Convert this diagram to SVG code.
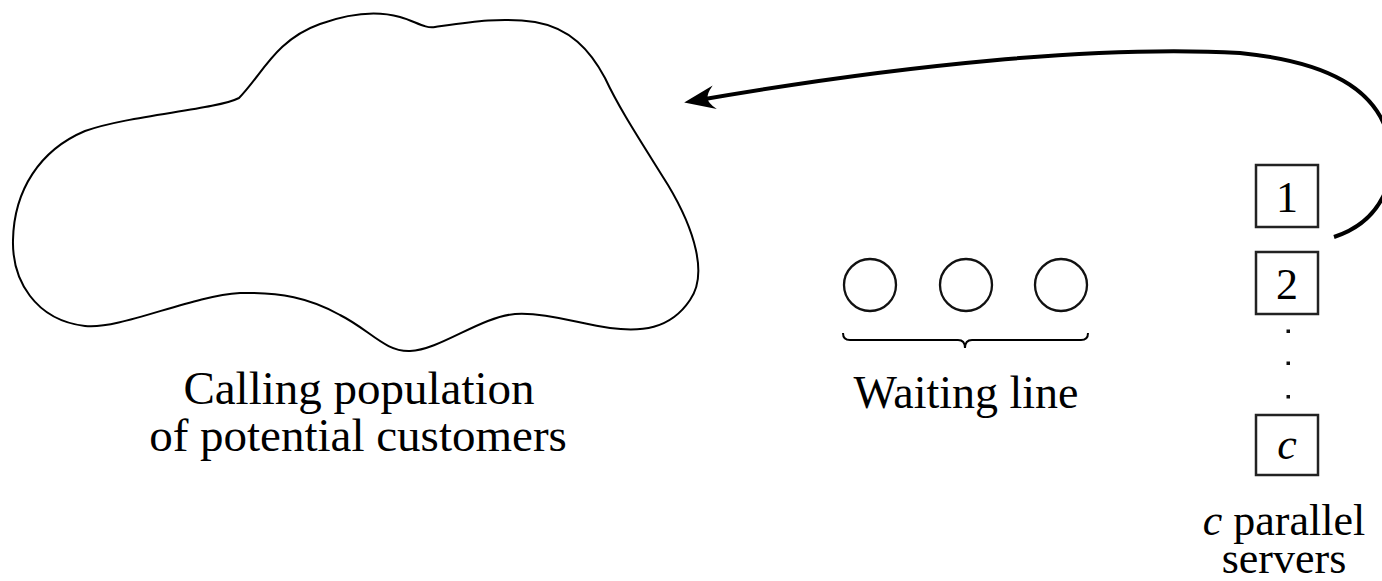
<svg xmlns="http://www.w3.org/2000/svg" width="1382" height="581" viewBox="0 0 1382 581">
  <style>
    .lbl { font-family: "Liberation Serif", "Times New Roman", serif; font-size: 46px; fill: #000; text-anchor: middle; }
    .srv { font-size: 44px; }
    .num { font-family: "Liberation Serif", "Times New Roman", serif; font-size: 44px; fill: #000; text-anchor: middle; }
    .ital { font-style: italic; }
    .outline { fill: none; stroke: #000; stroke-width: 2; }
    .ring { fill: none; stroke: #111; stroke-width: 2.3; }
    .box { fill: #fff; stroke: #222; stroke-width: 2.5; }
    .conn { fill: none; stroke: #000; stroke-width: 4; }
  </style>
  <defs>
    <marker id="head" markerUnits="userSpaceOnUse" viewBox="-36 -16 42 32" refX="-12" refY="0" markerWidth="42" markerHeight="32" orient="auto">
      <path d="M0,0 L-31,-12 Q-23,-4 -24,0 Q-23,4 -31,12 Z" fill="#000"/>
    </marker>
  </defs>
  <rect width="1382" height="581" fill="#fff"/>

  <!-- calling population -->
  <g id="population">
    <path class="outline" d="M239,98 C262,75 275,40 320,24 C345,15 375,10 400,17 C415,21 425,29 435,27 C470,22 500,17 535,22 C570,28 590,50 605,78 C620,110 640,140 668,185 C695,230 708,275 690,300 C670,330 640,332 610,328 C580,324 545,312 515,314 C480,317 440,350 410,351 C385,352 370,330 340,315 C310,298 280,292 240,293 C190,296 120,330 85,326 C35,320 12,280 13,240 C14,190 40,150 85,131 C130,115 215,110 239,98 Z"/>
    <text class="lbl" x="359" y="404" style="font-size:47px">Calling population</text>
    <text class="lbl" x="358" y="451" style="font-size:47px">of potential customers</text>
  </g>

  <!-- waiting line -->
  <g id="queue">
    <circle class="ring" cx="870" cy="285" r="26"/>
    <circle class="ring" cx="966" cy="285" r="26"/>
    <circle class="ring" cx="1061" cy="285" r="26"/>
    <path class="outline" d="M843,333 Q843,340 850,340 L958,340 Q965,340 965,348 Q965,340 972,340 L1081,340 Q1088,340 1088,333"/>
    <text class="lbl" x="966" y="408">Waiting line</text>
  </g>

  <!-- servers -->
  <g id="servers">
    <rect class="box" x="1256" y="165" width="62" height="62"/>
    <text class="num" x="1287" y="212">1</text>
    <rect class="box" x="1256" y="252" width="62" height="62"/>
    <text class="num" x="1287" y="299">2</text>
    <rect x="1286.5" y="329.5" width="3.5" height="3.5" fill="#111"/>
    <rect x="1286.5" y="361.5" width="3.5" height="3.5" fill="#111"/>
    <rect x="1286.5" y="395" width="3.5" height="3.5" fill="#111"/>
    <rect class="box" x="1256" y="415" width="62" height="60"/>
    <text class="num ital" x="1287" y="459">c</text>
    <text class="lbl srv" x="1284" y="535"><tspan class="ital">c</tspan> parallel</text>
    <text class="lbl srv" x="1284" y="573">servers</text>
  </g>

  <!-- return flow -->
  <g id="connectors">
    <path class="conn" marker-end="url(#head)" d="M1334,237 C1380,222 1400,180 1388,135 C1375,90 1330,62 1240,53 C1100,45 900,65 696,100.5"/>
  </g>
</svg>
